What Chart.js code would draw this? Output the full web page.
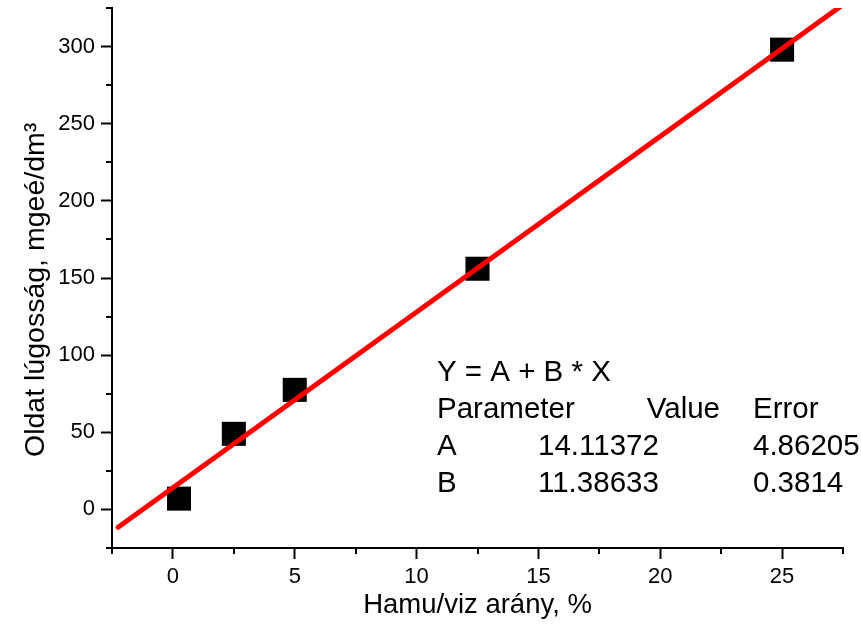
<!DOCTYPE html>
<html><head><meta charset="utf-8">
<script src="https://cdn.jsdelivr.net/npm/chart.js@4/dist/chart.umd.min.js"></script>
<style>html,body{margin:0;padding:0;background:#fff}#wrap{width:861px;height:633px}</style>
</head><body><div id="wrap"><canvas id="c" width="861" height="633"></canvas></div>
<script>
// Measured points
const hamuX = [0.25, 2.5, 5, 12.5, 25];
const lugossagY = [7, 49, 77.5, 156, 298];
// Fitted line endpoints
const fitX = [-2.25, 27.5];
const fitY = [-11.5, 327.2];
// Axis ticks
const xTicks = [0, 5, 10, 15, 20, 25];
const yTicks = [0, 50, 100, 150, 200, 250, 300];
const xMinorTicks = [-2.5, 2.5, 7.5, 12.5, 17.5, 22.5, 27.5];
const yMinorTicks = [-25, 25, 75, 125, 175, 225, 275, 325];
// Fit result table
const fitEquation = 'Y = A + B * X';
const fitHeader = ['Parameter', 'Value', 'Error'];
const fitParams = ['A', 'B'];
const fitValues = ['14.11372', '11.38633'];
const fitErrors = ['4.86205', '0.3814'];

const FONT = '"Liberation Sans", Arial, sans-serif';

const minorTicksPlugin = {
  id: 'minorTicks',
  afterDraw(chart) {
    const ctx = chart.ctx, xs = chart.scales.x, ys = chart.scales.y, a = chart.chartArea;
    ctx.save();
    ctx.strokeStyle = '#000';
    ctx.lineWidth = 2;
    ctx.beginPath();
    xMinorTicks.forEach(v => { const px = Math.round(xs.getPixelForValue(v)); ctx.moveTo(px, a.bottom); ctx.lineTo(px, a.bottom + 6); });
    yMinorTicks.forEach(v => { const py = Math.round(ys.getPixelForValue(v)); ctx.moveTo(a.left, py); ctx.lineTo(a.left - 6, py); });
    ctx.stroke();
    ctx.restore();
  }
};

const fitTablePlugin = {
  id: 'fitTable',
  afterDraw(chart) {
    const ctx = chart.ctx;
    ctx.save();
    ctx.fillStyle = '#000';
    ctx.font = '29.5px ' + FONT;
    ctx.textBaseline = 'alphabetic';
    const col1 = 437, col2 = 538, col3 = 753, valueRight = 720;
    const rows = [381, 418, 455, 492];
    ctx.textAlign = 'left';
    ctx.fillText(fitEquation, col1, rows[0]);
    ctx.fillText(fitHeader[0], col1, rows[1]);
    ctx.textAlign = 'right';
    ctx.fillText(fitHeader[1], valueRight, rows[1]);
    ctx.textAlign = 'left';
    ctx.fillText(fitHeader[2], col3, rows[1]);
    fitParams.forEach((p, i) => {
      ctx.fillText(p, col1, rows[2 + i]);
      ctx.fillText(fitValues[i], col2, rows[2 + i]);
      ctx.fillText(fitErrors[i], col3, rows[2 + i]);
    });
    ctx.restore();
  }
};

new Chart(document.getElementById('c'), {
  type: 'scatter',
  data: {
    datasets: [
      {
        type: 'line',
        label: 'fit',
        data: fitX.map((x, i) => ({ x, y: fitY[i] })),
        borderColor: '#ff0000',
        borderWidth: 5,
        borderCapStyle: 'round',
        pointRadius: 0,
        fill: false,
        clip: 0,
        order: 0
      },
      {
        label: 'data',
        data: hamuX.map((x, i) => ({ x, y: lugossagY[i] })),
        pointStyle: 'rect',
        pointRadius: 17,
        pointHoverRadius: 17,
        backgroundColor: '#000',
        borderColor: '#000',
        borderWidth: 0,
        order: 1
      }
    ]
  },
  options: {
    responsive: false,
    animation: false,
    devicePixelRatio: 1,
    layout: { autoPadding: false, padding: { top: 8, right: 18, left: 0, bottom: 0 } },
    plugins: { legend: { display: false }, tooltip: { enabled: false } },
    scales: {
      x: {
        type: 'linear', min: -2.5, max: 27.5,
        afterBuildTicks: s => { s.ticks = xTicks.map(v => ({ value: v })); },
        afterFit: s => { s.height = 85; s.paddingLeft = 0; s.paddingRight = 0; },
        grid: { drawOnChartArea: false, drawTicks: true, tickLength: 11, tickWidth: 2, tickColor: '#000', color: '#000' },
        border: { display: true, color: '#000', width: 2 },
        ticks: { color: '#000', font: { family: FONT, size: 22 }, padding: 5, maxRotation: 0 },
        title: { display: true, text: 'Hamu/viz arány, %', color: '#000', font: { family: FONT, size: 27.5 }, padding: { top: 0, bottom: 11 } }
      },
      y: {
        type: 'linear', min: -25, max: 325,
        afterBuildTicks: s => { s.ticks = yTicks.map(v => ({ value: v })); },
        afterFit: s => { s.width = 112; s.paddingTop = 0; s.paddingBottom = 0; },
        grid: { drawOnChartArea: false, drawTicks: true, tickLength: 11, tickWidth: 2, tickColor: '#000', color: '#000' },
        border: { display: true, color: '#000', width: 2 },
        ticks: { color: '#000', font: { family: FONT, size: 22 }, padding: 6 },
        title: { display: true, text: 'Oldat lúgosság, mgeé/dm³\u00A0\u00A0\u00A0', color: '#000', font: { family: FONT, size: 28.5 }, padding: { top: 19, bottom: 0 } }
      }
    }
  },
  plugins: [minorTicksPlugin, fitTablePlugin]
});
</script></body></html>
